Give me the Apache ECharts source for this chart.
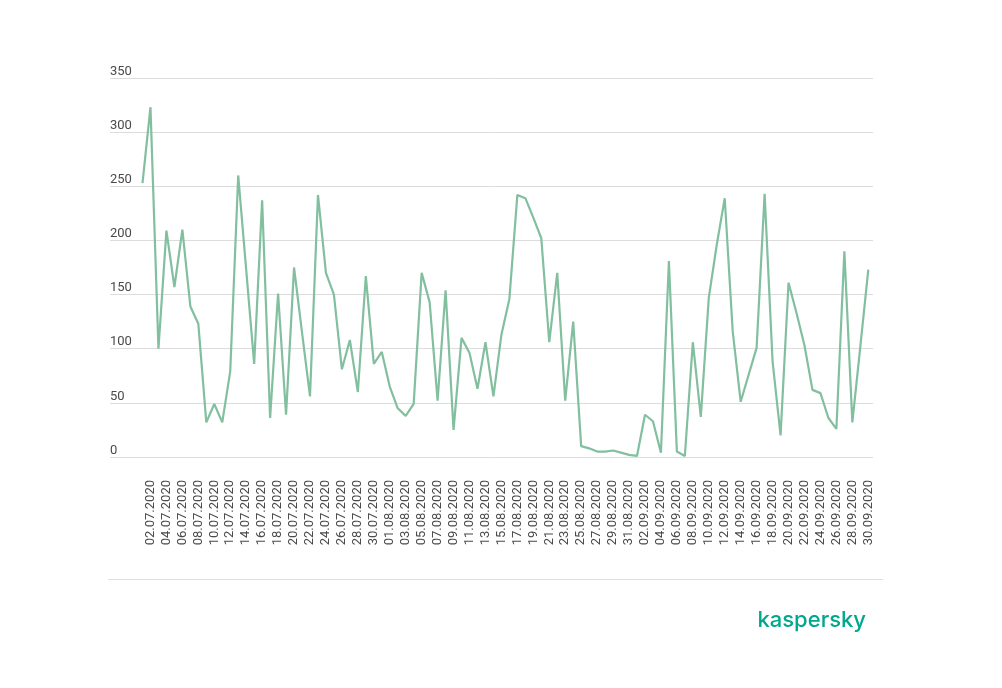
<!DOCTYPE html>
<html>
<head>
<meta charset="utf-8">
<script src="https://cdn.jsdelivr.net/npm/echarts@6/dist/echarts.min.js"></script>
<style>
html,body{margin:0;padding:0;background:#fff;}
#chart{width:1002px;height:688px;}
</style>
</head>
<body>
<div id="chart"></div>
<script>
const dates = [
'01.07.2020','02.07.2020','03.07.2020','04.07.2020','05.07.2020','06.07.2020','07.07.2020','08.07.2020','09.07.2020','10.07.2020',
'11.07.2020','12.07.2020','13.07.2020','14.07.2020','15.07.2020','16.07.2020','17.07.2020','18.07.2020','19.07.2020','20.07.2020',
'21.07.2020','22.07.2020','23.07.2020','24.07.2020','25.07.2020','26.07.2020','27.07.2020','28.07.2020','29.07.2020','30.07.2020',
'31.07.2020','01.08.2020','02.08.2020','03.08.2020','04.08.2020','05.08.2020','06.08.2020','07.08.2020','08.08.2020','09.08.2020',
'10.08.2020','11.08.2020','12.08.2020','13.08.2020','14.08.2020','15.08.2020','16.08.2020','17.08.2020','18.08.2020','19.08.2020',
'20.08.2020','21.08.2020','22.08.2020','23.08.2020','24.08.2020','25.08.2020','26.08.2020','27.08.2020','28.08.2020','29.08.2020',
'30.08.2020','31.08.2020','01.09.2020','02.09.2020','03.09.2020','04.09.2020','05.09.2020','06.09.2020','07.09.2020','08.09.2020',
'09.09.2020','10.09.2020','11.09.2020','12.09.2020','13.09.2020','14.09.2020','15.09.2020','16.09.2020','17.09.2020','18.09.2020',
'19.09.2020','20.09.2020','21.09.2020','22.09.2020','23.09.2020','24.09.2020','25.09.2020','26.09.2020','27.09.2020','28.09.2020',
'29.09.2020','30.09.2020'
];
const values = [
253,323,100,209,157,210,139,123,32,49,
32,79,260,173,86,237,36,151,39,175,
115,56,242,170,150,81,108,60,167,86,
97,65,45,38,49,170,143,52,154,25,
110,96,63,106,56,113,146,242,239,221,
202,106,170,52,125,10,8,5,5,6,
4,2,1,39,33,4,181,5,1,106,
37,147,196,239,116,51,76,101,243,88,
20,161,133,103,62,59,36,26,190,32,
102,173
];
const yTicks = [0,50,100,150,200,250,300,350];

const chart = echarts.init(document.getElementById('chart'), null, {renderer:'canvas'});
const GRID_TOP = 78, GRID_BOTTOM = 231;
chart.setOption({
  backgroundColor:'#ffffff',
  animation:false,
  grid:[
    {left:110, right:129, top:GRID_TOP, bottom:GRID_BOTTOM},
    {left:142.5, right:133.7, top:GRID_TOP, bottom:GRID_BOTTOM}
  ],
  xAxis:[
    {type:'value', gridIndex:0, min:0, max:1, show:false},
    {type:'category', gridIndex:1, data:dates, boundaryGap:false,
     axisLine:{show:false}, axisTick:{show:false}, splitLine:{show:false},
     axisLabel:{rotate:90, margin:23, fontSize:13, color:'#4a4a4a', fontFamily:'Roboto',
       interval:function(idx){return idx % 2 === 1;}}}
  ],
  yAxis:[
    {type:'value', gridIndex:0, min:yTicks[0], max:yTicks[yTicks.length-1], interval:50,
     axisLine:{show:false}, axisTick:{show:false},
     splitLine:{show:true, lineStyle:{color:'#dcdcdc', width:1}},
     axisLabel:{inside:true, margin:0, align:'left', verticalAlign:'bottom', padding:[0,0,0,0],
       fontSize:13, color:'#4a4a4a', fontFamily:'Roboto'}},
    {type:'value', gridIndex:1, min:yTicks[0], max:yTicks[yTicks.length-1], interval:50, show:false}
  ],
  series:[
    {type:'line', xAxisIndex:1, yAxisIndex:1, data:values, symbol:'none',
     lineStyle:{color:'#82bf9f', width:2.2}}
  ],
  graphic:[
    {type:'line', shape:{x1:108, y1:579.5, x2:883, y2:579.5}, style:{stroke:'#e0e0e0', lineWidth:1}},
    {type:'text', x:866, y:631, style:{text:'kaspersky', fill:'#00a88e', font:'500 22px Inter', textAlign:'right', textVerticalAlign:'bottom'}}
  ]
});
</script>
</body>
</html>
